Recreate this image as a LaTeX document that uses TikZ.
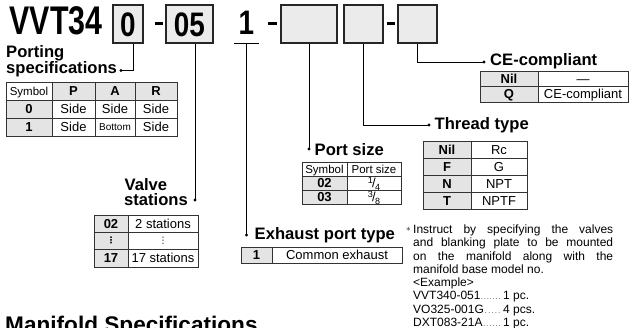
\documentclass[tikz,border=0pt]{standalone}
\usepackage{fontspec}
\setmainfont{Liberation Sans}
\newfontfamily\dejavu{DejaVu Sans}
\usetikzlibrary{calc}
\definecolor{cellgray}{HTML}{E4E4E4}
\definecolor{boxgray}{HTML}{EBEBEB}
\definecolor{gridc}{HTML}{333333}
\definecolor{shadowc}{HTML}{8A8A8A}
\newcommand\fs[1]{\fontsize{#1}{#1}\selectfont}
\newcommand\tcell[7]{%
  \fill[#6] (#2,#3) rectangle (#4,#5);
  \draw[gridline] (#2,#3) rectangle (#4,#5);
  \node[celltext,#6] (#1) at ({(#2+#4)/2},{(#3+#5)/2}) {#7};}
\newcommand\tshadow[4]{\fill[shadowc] (#1+1.3,#2+1.3) rectangle (#3+1.3,#4+1.3);}
\newcommand\mydots{\xleaders\hbox to 2.9pt{\hss{\fs{6.5}.}\hss}\hfill}
\newcommand\frc[2]{\raisebox{0.35em}{\fs{9}#1}\kern-0.06em/\kern-0.06em\raisebox{-0.2em}{\fs{9}#2}}
\newcommand\vdt{{\dejavu\fs{9}⋮}}
\begin{document}
\begin{tikzpicture}[x=1pt,y=-1pt,
  gridline/.style={draw=gridc,line width=0.7pt},
  celltext/.style={inner sep=0pt,text depth=0pt},
  hcell/.style={fill=white,font=\fs{11.5},text height=8.3pt},
  dcell/.style={fill=white,font=\fs{13},text height=9.3pt},
  scell/.style={fill=white,font=\fs{10},text height=7.2pt},
  bcell/.style={fill=cellgray,font=\bfseries\fs{13},text height=9.3pt},
  hbox/.style={draw=black!85,line width=1.1pt,fill=boxgray,inner sep=0pt,minimum height=38pt,
    font=\bfseries\fs{34},text height=24.4pt,text depth=0pt},
  ttl/.style={anchor=base west,inner sep=0pt,font=\bfseries\fs{16.6}},
  conn/.style={draw=black,line width=0.9pt},
  dotn/.style={circle,fill=black,inner sep=0pt,minimum size=3.4pt},
  note/.style={anchor=base west,inner sep=0pt,font=\fs{12}}]
\useasboundingbox[fill=white] (0,0) rectangle (633,328);

% ---- header code ----
\node[anchor=base west,inner sep=0pt,font=\bfseries\fs{40}] (title) at (9.5,35) {\scalebox{0.76}[1]{VVT34}};
\node[hbox,minimum width=30pt] (b0) at (128,24) {\scalebox{0.82}[1]{0}};
\fill (155,21.6) rectangle (163,24.6);
\node[hbox,minimum width=47pt] (b05) at (189.5,24) {\scalebox{0.82}[1]{05}};
\node[anchor=base,inner sep=0pt,font=\bfseries\fs{34}] (one) at (246.5,35) {\scalebox{0.82}[1]{1}};
\draw[conn] (234,43) -- (259,43);
\coordinate (u1) at (246.5,43);
\fill (268,21.6) rectangle (277,24.6);
\node[hbox,minimum width=56pt] (bA) at (309,24) {};
\node[hbox,minimum width=39pt] (bB) at (363.5,24) {};
\fill (387,21.6) rectangle (395,24.6);
\node[hbox,minimum width=39pt] (bC) at (417.5,24) {};

% ---- dots and connectors ----
\node[dotn] (dPS) at (121,70.5) {};
\node[dotn] (dVS) at (195,200) {};
\node[dotn] (dEx) at (246.5,235) {};
\node[dotn] (dPt) at (309,149) {};
\node[dotn] (dTh) at (429,125) {};
\node[dotn] (dCE) at (484,62) {};
\draw[conn] ([xshift=5pt]b0.south) |- (dPS.center);
\draw[conn] ([xshift=5.5pt]b05.south) -- (dVS.center);
\draw[conn] (u1) -- (dEx.center);
\draw[conn] (bA.south) -- (dPt.center);
\draw[conn] (bB.south) |- (dTh.center);
\draw[conn] (bC.south) |- (dCE.center);

% ---- titles ----
\node[ttl] (tPort1) at (6,57.5) {Porting};
\node[ttl] (tPort2) at (6,74) {specifications};
\node[ttl] (tVal1) at (124.5,190.5) {Valve};
\node[ttl] (tVal2) at (124,206) {stations};
\node[ttl] (tPt) at (314.5,155.5) {Port size};
\node[ttl] (tEx) at (254.5,239.5) {Exhaust port type};
\node[ttl] (tTh) at (434.5,129.5) {Thread type};
\node[ttl] (tCE) at (490,66) {CE-compliant};

% ---- porting specifications table ----
\tshadow{6}{82}{177}{136}
\tcell{ps00}{6}{82}{52}{100}{hcell}{Symbol}
\tcell{ps01}{52}{82}{95}{100}{bcell}{P}
\tcell{ps02}{95}{82}{135}{100}{bcell}{A}
\tcell{ps03}{135}{82}{177}{100}{bcell}{R}
\tcell{ps10}{6}{100}{52}{118.5}{bcell}{0}
\tcell{ps11}{52}{100}{95}{118.5}{dcell}{Side}
\tcell{ps12}{95}{100}{135}{118.5}{dcell}{Side}
\tcell{ps13}{135}{100}{177}{118.5}{dcell}{Side}
\tcell{ps20}{6}{118.5}{52}{136}{bcell}{1}
\tcell{ps21}{52}{118.5}{95}{136}{dcell}{Side}
\tcell{ps22}{95}{118.5}{135}{136}{scell}{Bottom}
\tcell{ps23}{135}{118.5}{177}{136}{dcell}{Side}

% ---- valve stations table ----
\tshadow{94}{215}{198}{267}
\tcell{vs10}{94}{215}{128}{232}{bcell}{02}
\tcell{vs11}{128}{215}{198}{232}{dcell}{2 stations}
\tcell{vs20}{94}{232}{128}{249}{bcell,text height=6.5pt}{\vdt}
\tcell{vs21}{128}{232}{198}{249}{dcell,text height=6.5pt}{\vdt}
\tcell{vs30}{94}{249}{128}{267}{bcell}{17}
\tcell{vs31}{128}{249}{198}{267}{dcell}{17 stations}

% ---- port size table ----
\tshadow{302}{162}{401}{204}
\tcell{pt00}{302}{162}{347}{176}{hcell}{Symbol}
\tcell{pt01}{347}{162}{401}{176}{hcell}{Port size}
\tcell{pt10}{302}{176}{347}{190}{bcell}{02}
\tcell{pt11}{347}{176}{401}{190}{dcell}{\frc{1}{4}}
\tcell{pt20}{302}{190}{347}{204}{bcell}{03}
\tcell{pt21}{347}{190}{401}{204}{dcell}{\frc{3}{8}}

% ---- exhaust port type table ----
\tshadow{241}{247}{402}{263}
\tcell{ex10}{241}{247}{272}{263}{bcell}{1}
\tcell{ex11}{272}{247}{402}{263}{dcell}{Common exhaust}

% ---- thread type table ----
\tshadow{423}{141}{527}{209}
\tcell{th10}{423}{141}{471}{158}{bcell}{Nil}
\tcell{th11}{471}{141}{527}{158}{dcell}{Rc}
\tcell{th20}{423}{158}{471}{175}{bcell}{F}
\tcell{th21}{471}{158}{527}{175}{dcell}{G}
\tcell{th30}{423}{175}{471}{192}{bcell}{N}
\tcell{th31}{471}{175}{527}{192}{dcell}{NPT}
\tcell{th40}{423}{192}{471}{209}{bcell}{T}
\tcell{th41}{471}{192}{527}{209}{dcell}{NPTF}

% ---- CE table ----
\tshadow{480}{71}{628}{102}
\tcell{ce10}{480}{71}{538}{86.5}{bcell}{Nil}
\tcell{ce11}{538}{71}{628}{86.5}{dcell}{—}
\tcell{ce20}{480}{86.5}{538}{102}{bcell}{Q}
\tcell{ce21}{538}{86.5}{628}{102}{dcell}{CE-compliant}

% ---- note ----
\node[inner sep=0pt,font=\fs{9}] (ast) at (408.5,229.5) {$\ast$};
\node[note] (n1) at (413,233.5) {\makebox[200pt][s]{Instruct by specifying the valves}};
\node[note] (n2) at (413,246.8) {\makebox[200pt][s]{and blanking plate to be mounted}};
\node[note] (n3) at (413,260.1) {\makebox[200pt][s]{on the manifold along with the}};
\node[note] (n4) at (413,273.4) {manifold base model no.};
\node[note] (n5) at (413,286.7) {<Example>};
\node[note] (n6) at (413,300) {\hbox to 88pt{VVT340-051\mydots}\,1 pc.};
\node[note] (n7) at (413,313.3) {\hbox to 88pt{VO325-001G\mydots}\,4 pcs.};
\node[note] (n8) at (413,326.4) {\hbox to 88pt{DXT083-21A\mydots}\,1 pc.};

% ---- section heading (cut at the bottom edge) ----
\node[anchor=base west,inner sep=0pt,font=\bfseries\fs{22.6}] (msec) at (5,333) {Manifold Specifications};
\end{tikzpicture}
\end{document}
